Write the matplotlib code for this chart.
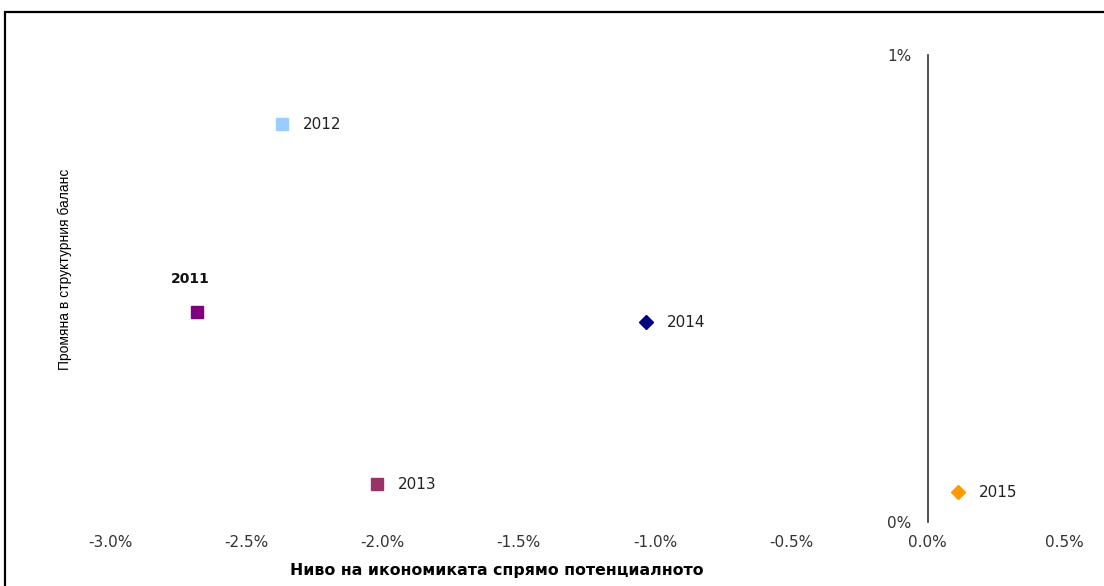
import matplotlib
matplotlib.use("Agg")
import matplotlib.pyplot as plt
from matplotlib.patches import Rectangle
from matplotlib.ticker import FuncFormatter

# Output gap vs change in structural balance, by year
years   = ["2011", "2012", "2013", "2014", "2015"]
gap     = [-2.68, -2.37, -2.02, -1.035, 0.11]     # % of potential
sb_chg  = [0.45, 0.852, 0.081, 0.428, 0.064]      # % change in structural balance
markers = ["s", "s", "s", "D", "D"]
colors  = ["#800080", "#99CCFF", "#993366", "#000080", "#FF9900"]

x_ticks = [-3.0, -2.5, -2.0, -1.5, -1.0, -0.5, 0.0, 0.5]
y_ticks = [0, 1]

plt.rcParams["font.family"] = ["DejaVu Sans"]

fig = plt.figure(figsize=(11.04, 5.86), dpi=100)
ax = fig.add_axes([0.0996, 0.1092, 0.8642, 0.7968])

for yr, x, y, m, c in zip(years, gap, sb_chg, markers, colors):
    ms = 9 if m == "s" else 7
    ax.plot(x, y, marker=m, color=c, markersize=ms, linestyle="none", clip_on=False)
    if yr == "2011":
        ax.annotate(yr, (x, y), xytext=(-5, 19), textcoords="offset points",
                    ha="center", va="bottom", fontsize=10, fontweight="bold", color="#111111")
    else:
        ax.annotate(yr, (x, y), xytext=(15, 0), textcoords="offset points",
                    ha="left", va="center", fontsize=11, color="#222222")

ax.set_xlim(-3.0, 0.5)
ax.set_ylim(0, 1)
ax.set_xticks(x_ticks)
ax.set_yticks(y_ticks)
ax.xaxis.set_major_formatter(FuncFormatter(lambda v, _: f"{v:.1f}%"))
ax.yaxis.set_major_formatter(FuncFormatter(lambda v, _: f"{v:.0f}%"))

# y axis crosses at x = 0, x axis line hidden
for s in ["top", "right", "bottom"]:
    ax.spines[s].set_visible(False)
ax.spines["left"].set_position(("data", 0))
ax.spines["left"].set_color("#333333")
ax.spines["left"].set_linewidth(1.2)
ax.tick_params(axis="x", length=0, pad=9, labelsize=11, labelcolor="#333333")
ax.tick_params(axis="y", length=0, pad=12, labelsize=11, labelcolor="#333333")

fig.text(0.45, 0.027, "Ниво на икономиката спрямо потенциалното",
         ha="center", va="center", fontsize=11.3, fontweight="bold")
fig.text(0.059, 0.54, "Промяна в структурния баланс", rotation=90,
         ha="center", va="center", fontsize=10,
         family=["Liberation Sans Narrow", "Liberation Sans", "DejaVu Sans"])

# chart frame
fig.patches.append(Rectangle((5 / 1104, -0.05), 1.1, 1 - 12 / 586 + 0.05,
                             transform=fig.transFigure, fill=False,
                             edgecolor="black", linewidth=1.6))

fig.savefig("out.png", dpi=100)
